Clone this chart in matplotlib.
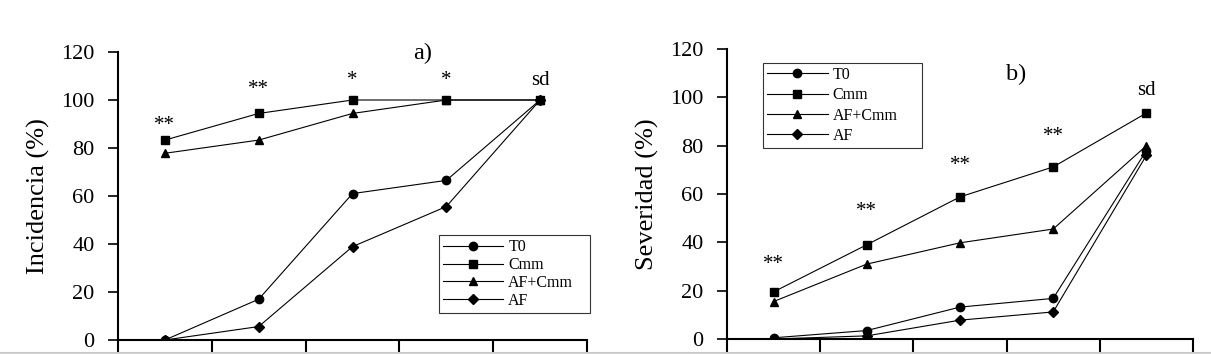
import numpy as np
import matplotlib.pyplot as plt
from matplotlib.lines import Line2D

plt.rcParams['font.family'] = ['Liberation Serif', 'DejaVu Serif']

x = [1, 2, 3, 4, 5]
labels = ['T0', 'Cmm', 'AF+Cmm', 'AF']
markers = ['o', 's', '^', 'D']

# a) Incidencia
inc_t0 = [0, 17, 61, 66.5, 100]
inc_cmm = [83.3, 94.4, 100, 100, 100]
inc_afcmm = [77.8, 83.3, 94.4, 100, 100]
inc_af = [0, 5.6, 38.9, 55.6, 100]
inc_sig = ['**', '**', '*', '*', 'sd']
inc_sig_y = [85.3, 100.3, 104.3, 104.3, 104]

# b) Severidad
sev_t0 = [0.5, 3.5, 13.2, 16.8, 78]
sev_cmm = [19.5, 39, 58.8, 71.2, 93.5]
sev_afcmm = [15.5, 31, 39.8, 45.5, 80]
sev_af = [0, 1.3, 7.8, 11.2, 76]
sev_sig = ['**', '**', '**', '**', 'sd']
sev_sig_y = [26.7, 48.7, 67.7, 79.7, 99]

fig = plt.figure(figsize=(12.11, 3.56), dpi=100)
ax1 = fig.add_axes([118 / 1211, 1 - 340 / 356, 469 / 1211, 288 / 356])
ax2 = fig.add_axes([727 / 1211, 1 - 339 / 356, 466 / 1211, 290 / 356])


def draw(ax, series, sig, sig_y, ylabel, tag, tag_xy, leg_box, leg_sp):
    for s, lab, m in zip(series, labels, markers):
        ms = 5.5 if m == 'D' else 6
        ax.plot(x, s, color='black', lw=0.8, marker=m, ms=ms, label=lab)
    for xi, t, yi in zip(x, sig, sig_y):
        ax.text(xi, yi, t, ha='center', va='bottom', fontsize=15)
    ax.text(tag_xy[0], tag_xy[1], tag, ha='center', va='center', fontsize=17.5)
    ax.set_xlim(0.5, 5.5)
    ax.set_ylim(0, 120)
    ax.set_yticks(np.arange(0, 121, 20))
    ax.set_xticks(np.arange(0.5, 5.6, 1))
    ax.set_xticklabels([])
    ax.tick_params(axis='y', direction='out', length=7, width=1.2, labelsize=16, pad=10)
    ax.tick_params(axis='x', direction='out', length=14, width=1.5)
    ax.spines['top'].set_visible(False)
    ax.spines['right'].set_visible(False)
    ax.spines['left'].set_linewidth(1.5)
    ax.spines['bottom'].set_linewidth(1.5)
    ax.set_ylabel(ylabel, fontsize=19, labelpad=8)
    leg = ax.legend(loc='lower left', bbox_to_anchor=leg_box, mode='expand',
                    borderaxespad=0, fontsize=11.5, frameon=True, fancybox=False,
                    edgecolor='black', handlelength=3.8, borderpad=0.25,
                    labelspacing=leg_sp, handletextpad=0.3)
    leg.get_frame().set_linewidth(0.8)
    ax.patch.set_alpha(0)


draw(ax1, [inc_t0, inc_cmm, inc_afcmm, inc_af], inc_sig, inc_sig_y,
     'Incidencia (%)', 'a)', (3.75, 119.5), (0.684, 0.094, 0.322, 0.26), 0.12)
draw(ax2, [sev_t0, sev_cmm, sev_afcmm, sev_af], sev_sig, sev_sig_y,
     'Severidad (%)', 'b)', (3.6, 109.5), (0.077, 0.659, 0.341, 0.279), 0.27)

fig.add_artist(Line2D([0, 1], [1 - 352.5 / 356] * 2, color='#c8c8c8', lw=1.5))
fig.add_artist(plt.Rectangle((0, 0), 1, 1 - 353.5 / 356, color='white', zorder=5))

fig.savefig('out.png', dpi=100)
